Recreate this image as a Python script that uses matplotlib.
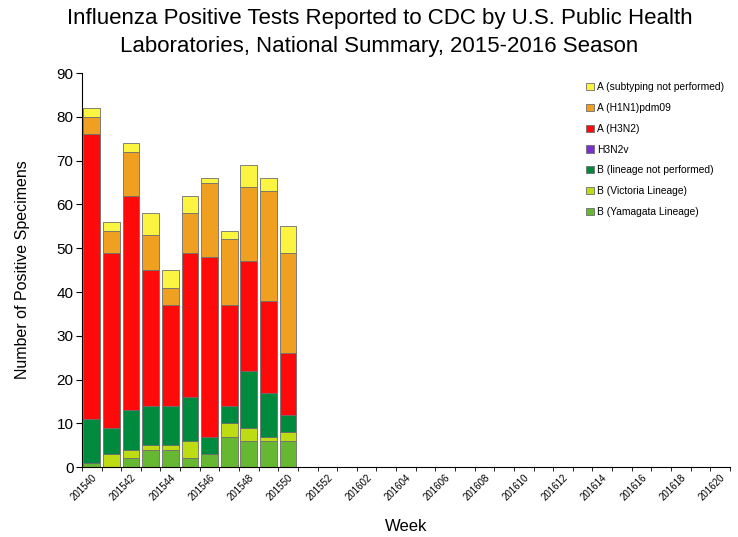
import numpy as np
import matplotlib
matplotlib.use("Agg")
import matplotlib.pyplot as plt

plt.rcParams['font.family'] = ['Liberation Sans', 'DejaVu Sans']

weeks = ([f"2015{w:02d}" for w in range(40, 53)] +
         [f"2016{w:02d}" for w in range(1, 21)])

pad = [0] * 22
yamagata = [1, 0, 2, 4, 4, 2, 3, 7, 6, 6, 6] + pad
victoria = [0, 3, 2, 1, 1, 4, 0, 3, 3, 1, 2] + pad
b_not_performed = [10, 6, 9, 9, 9, 10, 4, 4, 13, 10, 4] + pad
h3n2v = [0] * 11 + pad
h3n2 = [65, 40, 49, 31, 23, 33, 41, 23, 25, 21, 14] + pad
h1n1 = [4, 5, 10, 8, 4, 9, 17, 15, 17, 25, 23] + pad
a_not_subtyped = [2, 2, 2, 5, 4, 4, 1, 2, 5, 3, 6] + pad

series = [
    ("B (Yamagata Lineage)", yamagata, "#66b832"),
    ("B (Victoria Lineage)", victoria, "#bedc14"),
    ("B (lineage not performed)", b_not_performed, "#008a3e"),
    ("H3N2v", h3n2v, "#7b2fd0"),
    ("A (H3N2)", h3n2, "#ff0a0a"),
    ("A (H1N1)pdm09", h1n1, "#efa020"),
    ("A (subtyping not performed)", a_not_subtyped, "#fbf542"),
]

fig = plt.figure(figsize=(7.38, 5.37), dpi=100)
ax = fig.add_axes([0.111, 0.130, 0.878, 0.734])

x = np.arange(len(weeks))
bottom = np.zeros(len(weeks))
handles = []
for name, vals, col in series:
    vals = np.array(vals, dtype=float)
    bars = ax.bar(x, vals, width=0.85, bottom=bottom, color=col,
                  edgecolor="#6e6e6e", linewidth=0.6, label=name)
    handles.append(bars)
    bottom += vals

ax.set_xlim(-0.5, len(weeks) - 0.5)
ax.set_ylim(0, 90)
ax.set_yticks(range(0, 91, 10))
ax.tick_params(axis="y", labelsize=11, direction="out", length=4, pad=2)

ax.set_xticks(x[::2])
ax.set_xticklabels(weeks[::2], rotation=45, ha="right", rotation_mode="anchor",
                   fontsize=7)
ax.set_xticks(np.arange(-0.5, len(weeks), 1), minor=True)
ax.tick_params(axis="x", which="major", length=0, pad=4)
ax.tick_params(axis="x", which="minor", length=3, direction="out")

for s in ["top", "right"]:
    ax.spines[s].set_visible(False)

ax.set_ylabel("Number of Positive Specimens", fontsize=11.5, labelpad=19)
ax.set_xlabel("Week", fontsize=12, labelpad=12)
fig.suptitle("Influenza Positive Tests Reported to CDC by U.S. Public Health\n"
             "Laboratories, National Summary, 2015-2016 Season",
             fontsize=16, x=0.514, y=0.985, linespacing=1.45)

ax.legend(handles[::-1], [s[0] for s in series][::-1], loc="upper right",
          bbox_to_anchor=(1.005, 1.0), frameon=False, fontsize=7.4,
          handlelength=0.7, handleheight=0.7, handletextpad=0.3,
          labelspacing=1.05)

fig.savefig("out.png", dpi=100)
